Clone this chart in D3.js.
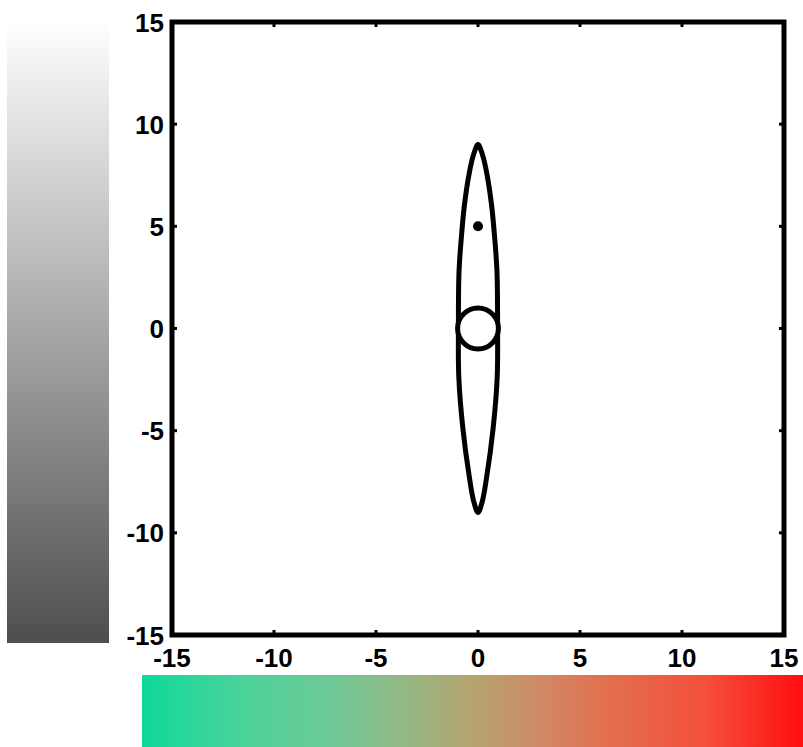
<!DOCTYPE html>
<html>
<head>
<meta charset="utf-8">
<script src="https://cdn.jsdelivr.net/npm/d3@7"></script>
<style>
  body { margin: 0; background: #fff; }
  svg { display: block; }
  .tick-label { font-family: "Liberation Sans", Arial, sans-serif; font-weight: bold; font-size: 26px; fill: #000; }
</style>
</head>
<body>
<svg id="chart"></svg>
<script>
// Axis settings
var domain = [-15, 15];
var tickValues = [-15, -10, -5, 0, 5, 10, 15];

// Right half profile of the tall ellipse: [y, halfWidth]
var ellipseProfile = [
    [9.0, 0], [8.5, 0.22], [7.6, 0.43], [6.0, 0.67], [4.4, 0.82], [2.8, 0.93],
    [0, 0.96], [-2.4, 0.94], [-4.9, 0.74], [-7.3, 0.42], [-8.5, 0.2], [-9.0, 0]
];

// Circle at the origin and the dot above it
var circles = [{ x: 0, y: 0, r: 1 }];
var dots = [{ x: 0, y: 5 }];

// Colour bars
var grayStops = ["#fefefe", "#4e4e4e"];
var warmStops = ["#0fd89b", "#4ad39a", "#6dca97", "#95b883", "#b5a46f", "#cf8a66", "#e27050", "#f4503b", "#ff0f0f"];
var warmOffsets = [0, 0.15, 0.28, 0.4, 0.5, 0.6, 0.7, 0.85, 1];

var width = 803, height = 747;

var svg = d3.select("#chart")
    .attr("width", width)
    .attr("height", height);

var x = d3.scaleLinear().domain(domain).range([172, 784]);
var y = d3.scaleLinear().domain(domain).range([635, 22]);

// Gradients
var defs = svg.append("defs");
var gGray = defs.append("linearGradient")
    .attr("id", "grayGrad")
    .attr("x1", 0).attr("y1", 0).attr("x2", 0).attr("y2", 1);
gGray.selectAll("stop")
    .data(grayStops)
    .enter().append("stop")
    .attr("offset", (d, i) => i / (grayStops.length - 1))
    .attr("stop-color", d => d);

var gWarm = defs.append("linearGradient")
    .attr("id", "warmGrad")
    .attr("x1", 0).attr("y1", 0).attr("x2", 1).attr("y2", 0);
gWarm.selectAll("stop")
    .data(warmStops)
    .enter().append("stop")
    .attr("offset", (d, i) => warmOffsets[i])
    .attr("stop-color", d => d);

// Colour bars
svg.append("rect")
    .attr("x", 7).attr("y", 23)
    .attr("width", 102).attr("height", 620)
    .attr("fill", "url(#grayGrad)");

svg.append("rect")
    .attr("x", 142).attr("y", 675)
    .attr("width", 661).attr("height", 72)
    .attr("fill", "url(#warmGrad)");

// Plot frame
svg.append("rect")
    .attr("x", x(-15)).attr("y", y(15))
    .attr("width", x(15) - x(-15)).attr("height", y(-15) - y(15))
    .attr("fill", "#fff")
    .attr("stroke", "#000")
    .attr("stroke-width", 5);

// Inner tick marks on all four sides
var inner = tickValues.slice(1, -1);
var tickLen = 5;
var ticks = svg.append("g").attr("stroke", "#000").attr("stroke-width", 3);
inner.forEach(function(v) {
    ticks.append("line").attr("x1", x(v)).attr("x2", x(v)).attr("y1", y(-15)).attr("y2", y(-15) - tickLen);
    ticks.append("line").attr("x1", x(v)).attr("x2", x(v)).attr("y1", y(15)).attr("y2", y(15) + tickLen);
    ticks.append("line").attr("y1", y(v)).attr("y2", y(v)).attr("x1", x(-15)).attr("x2", x(-15) + tickLen);
    ticks.append("line").attr("y1", y(v)).attr("y2", y(v)).attr("x1", x(15)).attr("x2", x(15) - tickLen);
});

// Tick labels
svg.append("g").selectAll("text")
    .data(tickValues)
    .enter().append("text")
    .attr("class", "tick-label")
    .attr("x", d => x(d))
    .attr("y", y(-15) + 32)
    .attr("text-anchor", "middle")
    .text(d => d);

svg.append("g").selectAll("text")
    .data(tickValues)
    .enter().append("text")
    .attr("class", "tick-label")
    .attr("x", x(-15) - 8)
    .attr("y", d => y(d) + 9.5)
    .attr("text-anchor", "end")
    .text(d => d);

// Ellipse outline: right side top to bottom, then the mirrored left side
var outline = ellipseProfile.map(d => [d[1], d[0]])
    .concat(ellipseProfile.slice(1, -1).reverse().map(d => [-d[1], d[0]]));

var line = d3.line()
    .x(d => x(d[0]))
    .y(d => y(d[1]))
    .curve(d3.curveCatmullRomClosed.alpha(0.5));

svg.append("path")
    .datum(outline)
    .attr("d", line)
    .attr("fill", "none")
    .attr("stroke", "#000")
    .attr("stroke-width", 5)
    .attr("stroke-linejoin", "round");

// Circle
svg.selectAll(".ring")
    .data(circles)
    .enter().append("circle")
    .attr("class", "ring")
    .attr("cx", d => x(d.x))
    .attr("cy", d => y(d.y))
    .attr("r", d => x(d.r) - x(0))
    .attr("fill", "#fff")
    .attr("stroke", "#000")
    .attr("stroke-width", 5);

// Dot
svg.selectAll(".dot")
    .data(dots)
    .enter().append("circle")
    .attr("class", "dot")
    .attr("cx", d => x(d.x))
    .attr("cy", d => y(d.y))
    .attr("r", 5)
    .attr("fill", "#000");
</script>
</body>
</html>
